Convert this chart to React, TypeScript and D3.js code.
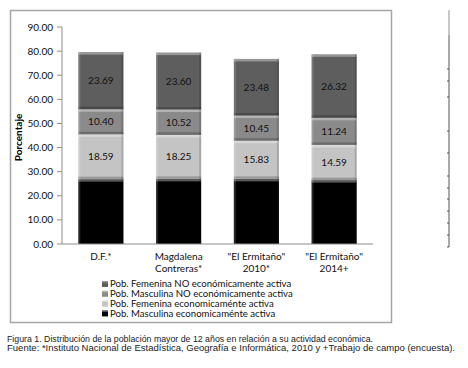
import * as d3 from 'd3';

const categories = [['D.F.*'], ['Magdalena', 'Contreras*'], ['"El Ermitaño"', '2010*'], ['"El Ermitaño"', '2014+']];
const masculinaActiva = [26.9, 27.0, 27.0, 26.5];
const femeninaActiva = [18.59, 18.25, 15.83, 14.59];
const masculinaNoActiva = [10.4, 10.52, 10.45, 11.24];
const femeninaNoActiva = [23.69, 23.6, 23.48, 26.32];
const yTicks = [0, 10, 20, 30, 40, 50, 60, 70, 80, 90];
const seriesNames = [
  'Pob. Masculina economicaménte activa',
  'Pob. Femenina economicaménte activa',
  'Pob. Masculina NO económicamente activa',
  'Pob. Femenina NO económicamente activa',
];
const captionLines = [
  'Figura 1. Distribución de la población mayor de 12 años en relación a su actividad económica.',
  'Fuente: *Instituto Nacional de Estadística, Geografía e Informática, 2010 y +Trabajo de campo (encuesta).',
];
const sideTicks = [69, 81, 97, 131, 153, 176, 188, 199, 211, 223, 235, 247];

const colors = ['#000000', '#c4c4c4', '#8a8a8a', '#5e5e5e'];
const FONT = 'Lato, "Open Sans", sans-serif';

const App = () => {
  const width = 468;
  const height = 368;
  const plot = { left: 62, right: 373, top: 27, bottom: 244 };

  const x = d3
    .scaleBand<number>()
    .domain(d3.range(categories.length))
    .range([plot.left, plot.right])
    .paddingInner(0.42)
    .paddingOuter(0.21);
  const y = d3.scaleLinear().domain([0, 90]).range([plot.bottom, plot.top]);

  const table = categories.map((_, i) => ({
    i,
    s0: masculinaActiva[i],
    s1: femeninaActiva[i],
    s2: masculinaNoActiva[i],
    s3: femeninaNoActiva[i],
  }));
  const stack = d3.stack<(typeof table)[number]>().keys(['s0', 's1', 's2', 's3'])(table);

  return (
    <svg width={width} height={height} style={{ position: 'absolute', left: 0, top: 0, background: '#fff' }}>
      <rect x={0} y={0} width={width} height={height} fill="#fff" />
      {/* chart frame */}
      <rect x={10.5} y={10.5} width={381} height={312} fill="none" stroke="#a6a6a6" strokeWidth={1.5} />

      {/* y axis */}
      <line x1={plot.left} x2={plot.left} y1={plot.top} y2={plot.bottom} stroke="#8c8c8c" />
      {yTicks.map(t => (
        <g key={t}>
          <line x1={plot.left - 5} x2={plot.left} y1={y(t)} y2={y(t)} stroke="#8c8c8c" />
          <text x={53} y={y(t)} dy="0.35em" textAnchor="end" fontFamily={FONT} fontSize={10} fill="#111">
            {t.toFixed(2)}
          </text>
        </g>
      ))}
      <text
        transform={`translate(22,${(plot.top + plot.bottom) / 2 + 2}) rotate(-90)`}
        textAnchor="middle"
        fontFamily={FONT}
        fontSize={10}
        fontWeight="bold"
        fill="#000"
      >
        Porcentaje
      </text>

      {/* bars */}
      {stack.map((layer, k) =>
        layer.map(d => {
          const x0 = x(d.data.i)!;
          const bw = x.bandwidth();
          const y1 = y(d[1]);
          const h = y(d[0]) - y(d[1]);
          return (
            <g key={`${k}-${d.data.i}`}>
              <rect x={x0} y={y1} width={bw} height={h} fill={colors[k]} />
              <rect x={x0} y={y1} width={bw} height={2.5} fill="#fff" opacity={0.35} />
              <rect x={x0} y={y1 + h - 2.5} width={bw} height={2.5} fill="#000" opacity={0.22} />
              <rect x={x0} y={y1} width={2} height={h} fill="#fff" opacity={0.15} />
              <rect x={x0 + bw - 2} y={y1} width={2} height={h} fill="#000" opacity={0.15} />
              {k > 0 && (
                <text
                  x={x0 + bw / 2}
                  y={(y(d[0]) + y(d[1])) / 2}
                  dy="0.35em"
                  textAnchor="middle"
                  fontFamily={FONT}
                  fontSize={10}
                  fill="#111"
                >
                  {(d[1] - d[0]).toFixed(2)}
                </text>
              )}
            </g>
          );
        }),
      )}

      {/* x axis */}
      <line x1={plot.left} x2={plot.right} y1={plot.bottom} y2={plot.bottom} stroke="#8c8c8c" />
      {categories.map((lines, i) => (
        <text key={i} x={x(i)! + x.bandwidth() / 2} y={260} textAnchor="middle" fontFamily={FONT} fontSize={10} fill="#111">
          {lines.map((l, j) => (
            <tspan key={j} x={x(i)! + x.bandwidth() / 2} dy={j === 0 ? 0 : 12}>
              {l}
            </tspan>
          ))}
        </text>
      ))}

      {/* legend */}
      {seriesNames
        .map((name, k) => ({ name, k }))
        .reverse()
        .map((s, j) => (
          <g key={s.k} transform={`translate(102,${284 + j * 9.8})`}>
            <rect x={0} y={-3} width={6} height={6} fill={colors[s.k]} />
            <rect x={0} y={-3} width={6} height={1.5} fill="#fff" opacity={0.35} />
            <text x={8} y={0} dy="0.35em" fontFamily={FONT} fontSize={9.6} fill="#111">
              {s.name}
            </text>
          </g>
        ))}

      {/* caption */}
      {captionLines.map((line, i) => (
        <text
          key={i}
          x={7}
          y={342 + i * 9}
          fontFamily='"Liberation Sans", Arial, sans-serif'
          fontSize={8.6}
          fill="#222"
          textLength={i === 0 ? 366 : 448}
          lengthAdjust="spacingAndGlyphs"
        >
          {line}
        </text>
      ))}

      {/* clipped neighbouring element on the right */}
      <rect x={448} y={10} width={2} height={25} fill="#c8c8c8" />
      <line x1={449} x2={449} y1={35} y2={247} stroke="#555" />
      {sideTicks.map(t => (
        <line key={t} x1={447} x2={449} y1={t} y2={t} stroke="#555" />
      ))}
    </svg>
  );
};

export default App;
